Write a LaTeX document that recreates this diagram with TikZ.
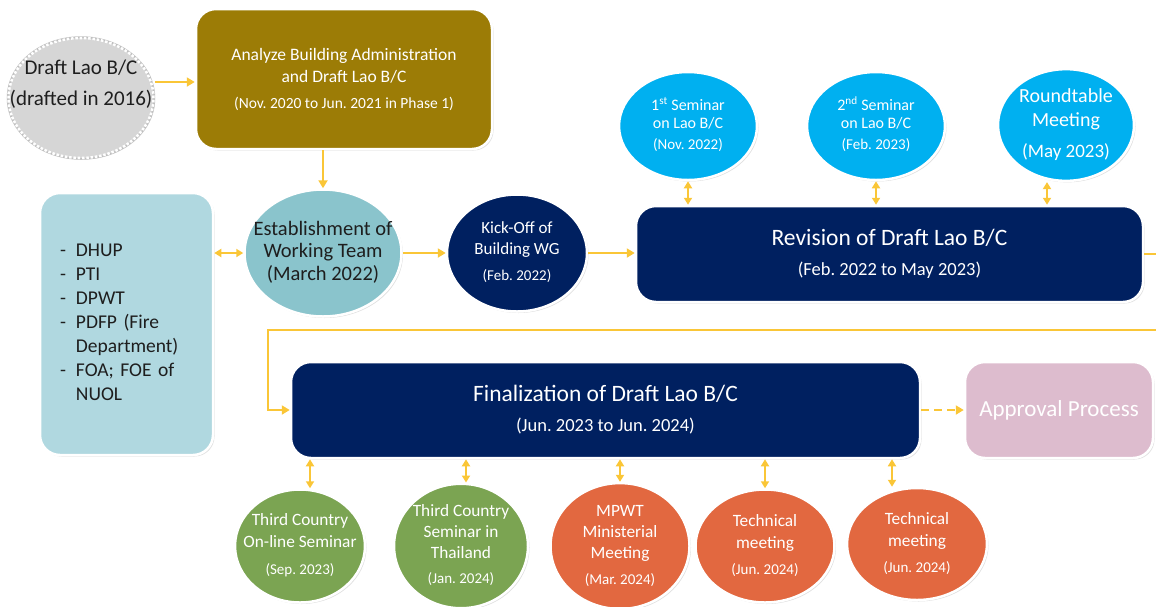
\documentclass[tikz,border=0pt]{standalone}
\usepackage{fontspec}
\setmainfont{Carlito}
\usetikzlibrary{arrows.meta, shapes.geometric, shadows}
\definecolor{arrowgold}{RGB}{250,198,55}
\definecolor{olive}{RGB}{156,124,6}
\definecolor{navy}{RGB}{0,32,96}
\definecolor{paleblue}{RGB}{176,216,224}
\definecolor{tealpale}{RGB}{138,196,204}
\definecolor{sky}{RGB}{0,176,240}
\definecolor{leaf}{RGB}{123,164,82}
\definecolor{brick}{RGB}{226,104,64}
\definecolor{mauve}{RGB}{221,188,206}
\definecolor{draftgray}{RGB}{214,214,214}
\definecolor{ink}{RGB}{30,30,30}
\newcommand{\inside}[1]{\makebox[0pt]{\begin{tabular}{@{}c@{}}#1\end{tabular}}}
\newcommand{\when}[1]{{\fontsize{15}{17}\selectfont #1}}

\begin{document}
\frenchspacing
\begin{tikzpicture}[x=1pt, y=-1pt,
    shade/.style={drop shadow={opacity=0.25, shadow xshift=1.5pt, shadow yshift=-1.5pt}},
    panel/.style={rectangle, rounded corners=20pt, draw=white, line width=2.5pt, shade,
                  align=center, text=white, inner sep=0pt},
    bub/.style={ellipse, draw=white, line width=2.5pt, shade, inner sep=0pt, text=white},
    ar/.style={-{Triangle[length=8pt, width=9pt]}, draw=arrowgold, line width=2.5pt},
    dar/.style={{Triangle[length=7pt, width=8pt]}-{Triangle[length=7pt, width=8pt]},
                draw=arrowgold, line width=2.5pt}]
  \useasboundingbox (0,0) rectangle (1156,606);

  % first phase
  \node[bub, fill=draftgray, text=ink, minimum width=145pt, minimum height=120pt,
        draw=white, line width=2.5pt, dash pattern=on 2.5pt off 1.8pt,
        preaction={draw=gray!50, line width=3.5pt, solid}] (draft) at (81,98)
       {\fontsize{21}{31}\selectfont\raisebox{9pt}[0pt][0pt]{\inside{Draft Lao B/C\\(drafted in 2016)}}};
  \node[panel, fill=olive, minimum width=296pt, minimum height=140pt,
        font=\fontsize{17.5}{22}\selectfont] (analyze) at (344,79)
       {Analyze Building Administration\\and Draft Lao B/C\\[4pt]
        {\fontsize{15.5}{18}\selectfont (Nov. 2020 to Jun. 2021 in Phase 1)}};

  % working team
  \node[panel, fill=paleblue, text=ink, minimum width=173pt, minimum height=262pt,
        text width=133pt, align=left, font=\fontsize{19.5}{24}\selectfont] (orgs) at (126.5,324)
       {\noindent
        \begin{tabular}{@{}l@{\hspace{10pt}}l@{}}
          -&DHUP\\ -&PTI\\ -&DPWT\\ -&PDFP (Fire\\ &Department)\\ -&FOA; FOE of\\ &NUOL
        \end{tabular}};
  \node[bub, fill=tealpale, text=ink, minimum width=157pt, minimum height=127pt] (estab) at (323,253)
       {\fontsize{20.5}{22.5}\selectfont\inside{Establishment of\\Working Team\\(March 2022)}};
  \node[bub, fill=navy, minimum width=140pt, minimum height=117pt] (ko) at (517,253)
       {\fontsize{17}{21}\selectfont\inside{Kick-Off of\\Building WG\\[5pt]\when{(Feb. 2022)}}};

  % revision
  \node[panel, fill=navy, minimum width=507pt, minimum height=96pt,
        font=\fontsize{23.5}{30}\selectfont] (rev) at (889.5,254)
       {Revision of Draft Lao B/C\\{\fontsize{18.5}{20}\selectfont (Feb. 2022 to May 2023)}};
  \node[bub, fill=sky, minimum width=138pt, minimum height=108pt] (sem1) at (688,126)
       {\fontsize{16}{18}\selectfont\inside{1\textsuperscript{st} Seminar\\on Lao B/C\\[3pt]\when{(Nov. 2022)}}};
  \node[bub, fill=sky, minimum width=138pt, minimum height=108pt] (sem2) at (876,126)
       {\fontsize{16}{18}\selectfont\inside{2\textsuperscript{nd} Seminar\\on Lao B/C\\[3pt]\when{(Feb. 2023)}}};
  \node[bub, fill=sky, minimum width=136pt, minimum height=108pt] (round) at (1066,125)
       {\fontsize{20}{24}\selectfont\inside{Roundtable\\Meeting\\[7pt]{\fontsize{19}{21}\selectfont (May 2023)}}};

  % finalization
  \node[panel, fill=navy, minimum width=629pt, minimum height=96pt,
        font=\fontsize{23.5}{30}\selectfont] (fin) at (605.5,410)
       {Finalization of Draft Lao B/C\\{\fontsize{18.5}{20}\selectfont (Jun. 2023 to Jun. 2024)}};
  \node[panel, fill=mauve, minimum width=188pt, minimum height=96pt,
        font=\fontsize{23}{26}\selectfont] (appr) at (1059,410) {Approval Process};
  \node[bub, fill=leaf, minimum width=130pt, minimum height=113pt] (tc1) at (300,546)
       {\fontsize{17.3}{22}\selectfont\inside{Third Country\\On-line Seminar\\[5pt]\when{(Sep. 2023)}}};
  \node[bub, fill=leaf, minimum width=134pt, minimum height=113pt] (tc2) at (461,546)
       {\fontsize{17.3}{21}\selectfont\inside{Third Country\\Seminar in\\Thailand\\[4pt]\when{(Jan. 2024)}}};
  \node[bub, fill=brick, minimum width=139pt, minimum height=113pt] (mpwt) at (620,546)
       {\fontsize{17.3}{21}\selectfont\inside{MPWT\\Ministerial\\Meeting\\[5pt]\when{(Mar. 2024)}}};
  \node[bub, fill=brick, minimum width=139pt, minimum height=113pt] (tm1) at (765,546)
       {\fontsize{17.3}{22}\selectfont\inside{Technical\\meeting\\[4pt]\when{(Jun. 2024)}}};
  \node[bub, fill=brick, minimum width=140pt, minimum height=112pt] (tm2) at (917,544)
       {\fontsize{17.3}{22}\selectfont\inside{Technical\\meeting\\[4pt]\when{(Jun. 2024)}}};

  % connectors
  \draw[ar] ([yshift=16pt]draft.east) -- ([yshift=16pt]draft.east -| analyze.west);
  \draw[ar] (analyze.south -| estab.north) -- (estab.north);
  \draw[dar] (estab.west -| orgs.east) -- (estab.west);
  \draw[ar] (estab.east) -- (ko.west);
  \draw[ar] (ko.east) -- (ko.east -| rev.west);
  \foreach \s in {sem1, sem2}
    \draw[dar] (\s.south) -- (\s.south |- rev.north);
  \draw[dar] ([xshift=-19pt]round.south) -- ([xshift=-19pt]round.south |- rev.north);
  \coordinate (edge) at (1175,330);
  \coordinate (bend) at (268,330);
  \draw[ar] (rev.east) -| (edge) -- (bend) |- (fin.west);
  \draw[ar, dash pattern=on 8pt off 5pt] (fin.east) -- (appr.west);
  \foreach \b/\dx in {tc1/10, tc2/5, mpwt/0, tm1/0, tm2/-25}
    \draw[dar] ([xshift=\dx pt]\b.north |- fin.south) -- ([xshift=\dx pt]\b.north);
\end{tikzpicture}
\end{document}
